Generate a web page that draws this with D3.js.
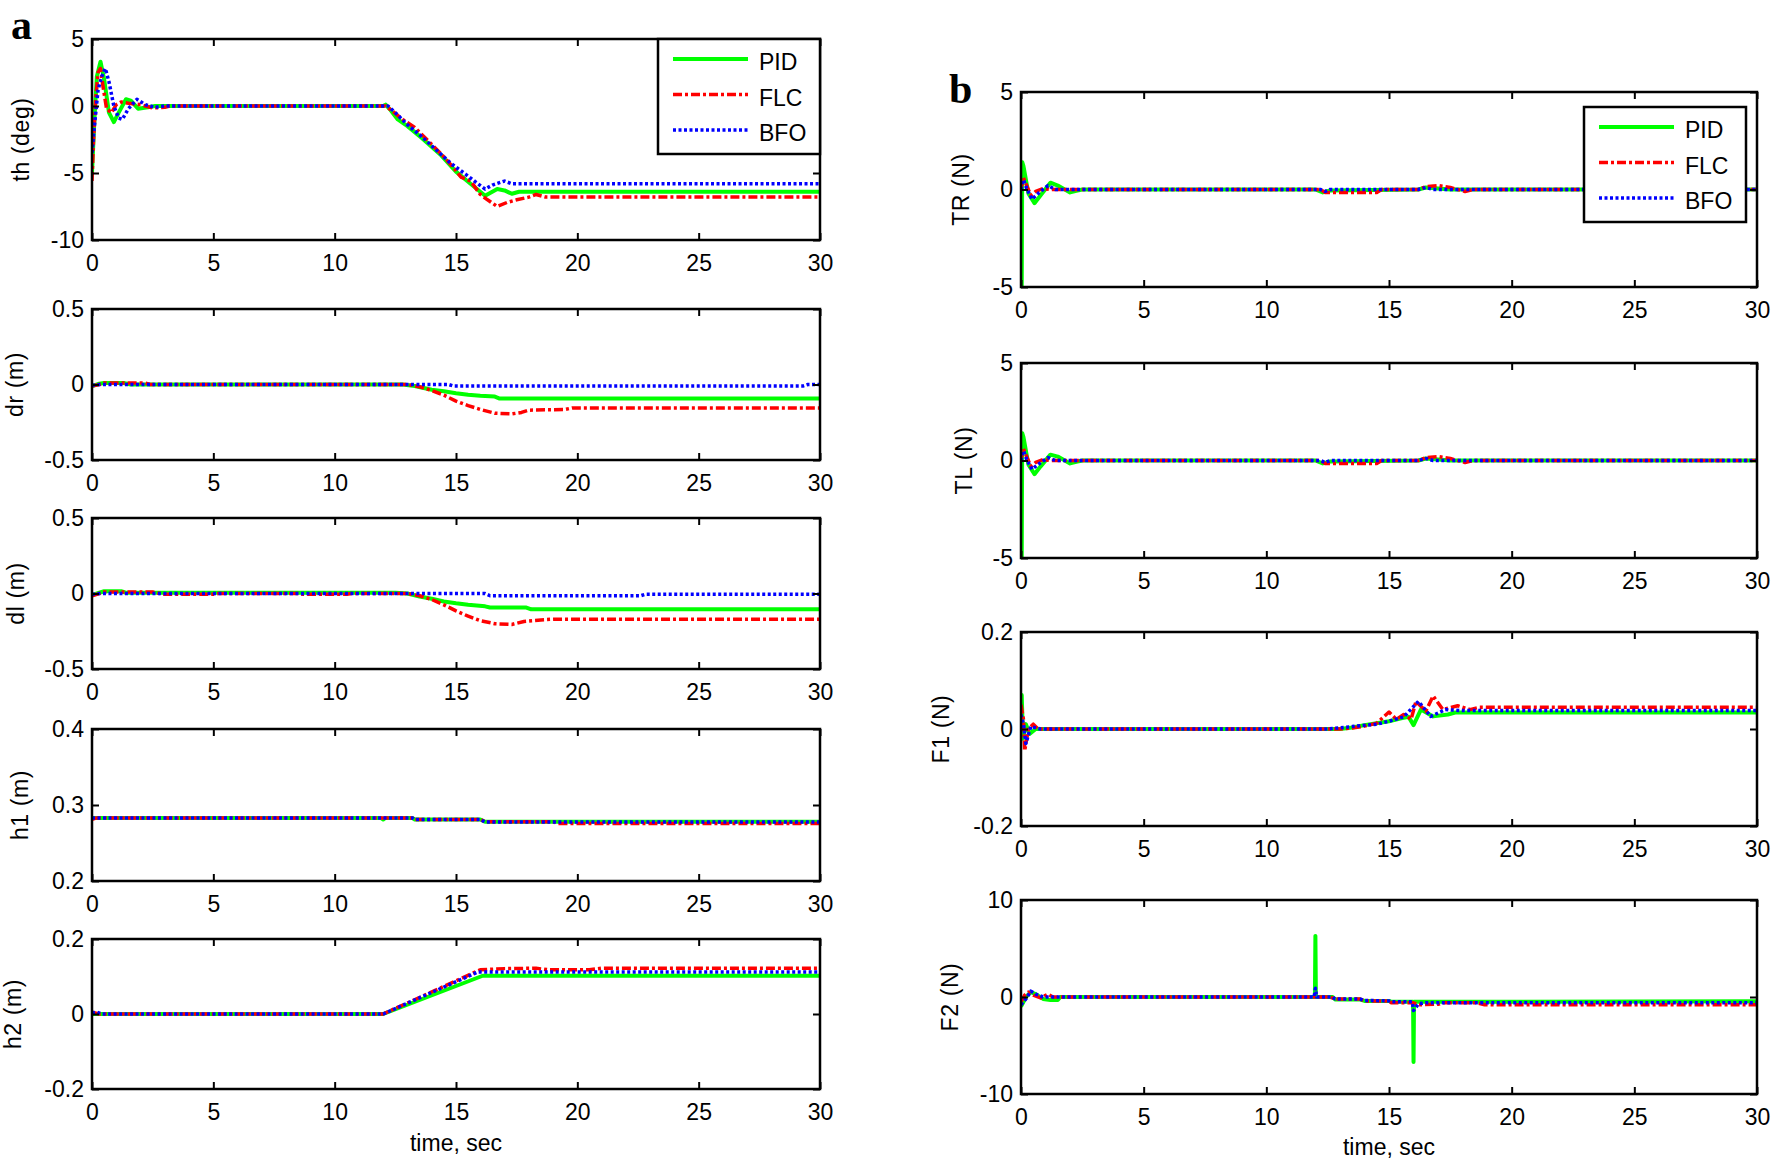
<!DOCTYPE html>
<html>
<head>
<meta charset="utf-8">
<script src="https://cdn.jsdelivr.net/npm/d3@7"></script>
<style>
body { margin: 0; background: #fff; }
</style>
</head>
<body>
<svg id="fig" width="1773" height="1166"></svg>
<script>
// time ticks shared by every panel
var xTicks = [0, 5, 10, 15, 20, 25, 30];
var seriesNames = ["PID", "FLC", "BFO"];

// th (deg)
var thTicks = [-10, -5, 0, 5];
var thPID = [[0,-5],[0.1,-1],[0.2,2.2],[0.35,3.3],[0.5,2.0],[0.7,-0.5],[0.9,-1.2],[1.1,-0.5],[1.4,0.5],[1.6,0.4],[1.9,-0.2],[2.3,-0.1],[2.6,0],[12.0,0],[12.1,0.1],[12.3,-0.3],[12.6,-1.0],[13.0,-1.5],[13.6,-2.4],[14.4,-3.7],[15.0,-4.9],[15.6,-5.8],[16.2,-6.7],[16.7,-6.2],[17.0,-6.3],[17.3,-6.55],[17.6,-6.4],[30,-6.4]];
var thFLC = [[0,-5.6],[0.05,-3],[0.15,0.5],[0.25,2.5],[0.35,2.8],[0.45,1.5],[0.6,-0.2],[0.8,-0.5],[1.0,0.1],[1.2,0.3],[1.5,0.2],[2.0,0.1],[2.5,-0.15],[3.0,-0.1],[3.2,0],[12.1,0],[12.4,-0.4],[12.8,-1.0],[13.3,-1.6],[13.8,-2.5],[14.4,-3.6],[14.9,-4.6],[15.2,-5.3],[15.6,-5.6],[16.0,-6.6],[16.3,-7.0],[16.7,-7.5],[17.1,-7.2],[17.5,-7.0],[18.0,-6.8],[18.3,-6.6],[18.7,-6.8],[30,-6.8]];
var thBFO = [[0,-3.5],[0.1,-1.5],[0.25,1.2],[0.4,2.2],[0.55,2.8],[0.7,1.8],[0.9,0],[1.1,-0.9],[1.25,-1.0],[1.5,-0.2],[1.85,0.5],[2.2,0.1],[2.6,-0.1],[3.0,0],[12.2,0],[12.5,-0.5],[13.0,-1.4],[13.6,-2.3],[14.2,-3.3],[14.8,-4.3],[15.4,-5.1],[15.9,-5.8],[16.2,-6.2],[16.5,-5.9],[17.0,-5.6],[17.3,-5.8],[30,-5.8]];

// dr (m)
var drTicks = [-0.5, 0, 0.5];
var drPID = [[0,-0.01],[0.3,0.005],[0.5,0.01],[1.3,0.01],[1.6,0],[12.8,0],[13.3,-0.01],[14.0,-0.035],[14.5,-0.045],[15.0,-0.058],[15.5,-0.068],[16.0,-0.075],[16.6,-0.08],[16.8,-0.093],[30,-0.093]];
var drFLC = [[0,-0.01],[0.3,0],[0.5,0.01],[2.2,0.01],[2.4,0],[13.0,0],[13.5,-0.015],[14.0,-0.04],[14.5,-0.07],[15.0,-0.11],[15.5,-0.14],[16.0,-0.165],[16.6,-0.19],[17.3,-0.195],[17.7,-0.185],[18.0,-0.17],[19.5,-0.165],[19.8,-0.155],[30,-0.155]];
var drBFO = [[0,-0.005],[0.3,0],[14.7,0],[14.9,-0.01],[29.3,-0.01],[29.5,0],[30,0]];

// dl (m)
var dlTicks = [-0.5, 0, 0.5];
var dlPID = [[0,-0.01],[0.3,0.005],[0.5,0.015],[1.2,0.015],[1.4,0.005],[12.5,0.005],[13.0,0],[13.5,-0.02],[14.0,-0.035],[14.5,-0.053],[15.0,-0.065],[15.5,-0.075],[16.2,-0.085],[16.4,-0.093],[17.9,-0.093],[18.1,-0.105],[30,-0.105]];
var dlFLC = [[0,-0.015],[0.3,0],[0.5,0.01],[2.5,0.01],[2.8,0],[3.0,-0.005],[5.0,-0.005],[5.2,0],[8.5,0],[8.7,-0.005],[10.5,-0.005],[10.7,0],[13.0,0],[13.5,-0.015],[14.0,-0.04],[14.5,-0.075],[15.0,-0.115],[15.5,-0.15],[16.0,-0.18],[16.6,-0.2],[17.3,-0.205],[17.8,-0.185],[18.5,-0.175],[19.0,-0.17],[30,-0.17]];
var dlBFO = [[0,-0.005],[0.3,0],[16.2,0],[16.4,-0.015],[22.6,-0.015],[22.8,-0.005],[30,-0.005]];

// h1 (m)
var h1Ticks = [0.2, 0.3, 0.4];
var h1PID = [[0,0.283],[11.9,0.283],[12.0,0.281],[12.1,0.283],[13.2,0.283],[13.3,0.281],[16.0,0.281],[16.2,0.278],[30,0.278]];
var h1FLC = [[0,0.281],[0.2,0.283],[12.0,0.283],[13.2,0.283],[13.3,0.281],[16.0,0.281],[16.2,0.278],[19.0,0.278],[19.2,0.2755],[30,0.2755]];
var h1BFO = [[0,0.283],[12.0,0.283],[13.2,0.283],[13.3,0.281],[16.0,0.281],[16.2,0.2775],[30,0.2775]];

// h2 (m)
var h2Ticks = [-0.2, 0, 0.2];
var h2PID = [[0,0],[12.0,0],[16.1,0.102],[30,0.102]];
var h2FLC = [[0,0.005],[0.3,0],[12.0,0],[16.0,0.118],[17,0.121],[18.3,0.122],[18.8,0.118],[20.5,0.118],[21.0,0.122],[30,0.122]];
var h2BFO = [[0,0.003],[0.2,0.005],[0.4,0],[12.0,0],[15.9,0.112],[30,0.112]];

// TR (N)
var trTicks = [-5, 0, 5];
var trPID = [[0,0],[0.01,-5],[0.03,-5],[0.05,1.4],[0.1,1.2],[0.3,-0.2],[0.55,-0.7],[0.8,-0.3],[1.2,0.35],[1.5,0.2],[2.0,-0.15],[2.3,-0.05],[2.5,0],[12.0,0],[12.3,-0.15],[12.6,-0.05],[16.2,0],[16.5,0.1],[17.0,0.05],[17.5,0],[30,0]];
var trFLC = [[0,0],[0.05,0.4],[0.1,0.6],[0.2,0.3],[0.4,-0.3],[0.6,-0.1],[0.9,0.05],[1.2,0],[12.2,0],[12.4,-0.15],[14.5,-0.15],[14.7,0],[16.2,0],[16.5,0.15],[17.0,0.2],[17.5,0.1],[17.8,0],[18.1,-0.1],[18.4,0],[30,0]];
var trBFO = [[0,0],[0.05,0.3],[0.1,0.5],[0.25,0],[0.45,-0.5],[0.7,-0.2],[1.1,0.2],[1.4,0],[12.2,0],[12.4,-0.1],[12.6,0],[16.2,0],[16.5,0.1],[16.8,0],[30,0]];

// TL (N)
var tlTicks = [-5, 0, 5];
var tlPID = [[0,0],[0.01,-5],[0.03,-5],[0.05,1.4],[0.1,1.2],[0.3,-0.2],[0.55,-0.7],[0.8,-0.3],[1.2,0.3],[1.5,0.2],[2.0,-0.15],[2.3,-0.05],[2.5,0],[12.0,0],[12.3,-0.15],[12.6,-0.05],[16.2,0],[16.5,0.1],[17.0,0.05],[17.5,0],[30,0]];
var tlFLC = [[0,0],[0.05,0.4],[0.1,0.6],[0.2,0.3],[0.4,-0.3],[0.6,-0.1],[0.9,0.05],[1.2,0],[12.2,0],[12.4,-0.15],[14.5,-0.15],[14.7,0],[16.2,0],[16.5,0.15],[17.0,0.2],[17.5,0.1],[17.8,0],[18.1,-0.1],[18.4,0],[30,0]];
var tlBFO = [[0,0],[0.05,0.3],[0.1,0.5],[0.25,0],[0.45,-0.45],[0.7,-0.2],[1.1,0.15],[1.4,0],[12.2,0],[12.4,-0.1],[12.6,0],[16.2,0],[16.5,0.1],[16.8,0],[30,0]];

// F1 (N)
var f1Ticks = [-0.2, 0, 0.2];
var f1PID = [[0,0],[0.03,0.07],[0.08,-0.02],[0.2,0.01],[0.35,-0.01],[0.6,0],[13.0,0],[13.5,0.003],[14.0,0.008],[14.5,0.012],[15.0,0.016],[15.5,0.022],[15.8,0.025],[16.0,0.008],[16.3,0.04],[16.8,0.026],[17.4,0.03],[17.7,0.034],[30,0.034]];
var f1FLC = [[0,0.05],[0.1,0.02],[0.15,-0.045],[0.3,0],[0.5,0.01],[0.7,0],[13.0,0],[13.5,0.002],[14.0,0.006],[14.5,0.012],[15.0,0.035],[15.3,0.02],[15.6,0.03],[15.9,0.02],[16.1,0.057],[16.5,0.037],[16.8,0.068],[17.2,0.04],[17.8,0.048],[18.3,0.04],[18.7,0.045],[30,0.045]];
var f1BFO = [[0,0.03],[0.1,0.01],[0.2,-0.03],[0.4,0.005],[0.8,0],[12.5,0],[13.5,0.005],[14.5,0.01],[15.0,0.016],[15.6,0.025],[16.2,0.057],[16.7,0.026],[17.3,0.04],[18.0,0.038],[30,0.038]];

// F2 (N)
var f2Ticks = [-10, 0, 10];
var f2PID = [[0,-1],[0.2,0],[0.4,0.5],[0.6,0.3],[0.9,-0.2],[1.2,-0.3],[1.5,-0.3],[1.6,0],[11.98,0],[12.0,6.3],[12.02,0],[12.7,0],[12.8,-0.25],[13.8,-0.25],[14.0,-0.4],[15.0,-0.4],[15.1,-0.5],[15.98,-0.5],[16.0,-6.7],[16.02,-0.5],[30,-0.45]];
var f2FLC = [[0,-0.5],[0.15,0.2],[0.3,0.5],[0.5,0.2],[0.8,-0.1],[1.1,0.3],[1.3,0],[12.6,0],[12.8,-0.2],[13.8,-0.2],[14.0,-0.4],[15.0,-0.4],[15.1,-0.6],[16.0,-0.6],[16.2,-0.8],[17.0,-0.75],[17.2,-0.6],[18.6,-0.6],[18.9,-0.8],[30,-0.8]];
var f2BFO = [[0,-0.8],[0.2,-0.2],[0.4,0.6],[0.6,0.3],[0.9,0],[11.95,0],[12.0,0.9],[12.05,0],[12.7,0],[12.8,-0.2],[13.8,-0.2],[14.0,-0.35],[15.0,-0.4],[15.1,-0.5],[15.95,-0.5],[16.0,-1.4],[16.2,-0.7],[16.5,-0.6],[30,-0.6]];

var styles = [
  {color: "#00ff00", width: 4, dash: null},
  {color: "#ff0000", width: 3.5, dash: "9,3,3,3"},
  {color: "#0000ff", width: 3.5, dash: "3,2.5"}
];

var panels = [
  {x: 92, y: 39, w: 728, h: 201, ticks: thTicks, label: "th (deg)", lx: 28.5, data: [thPID, thFLC, thBFO], legend: {dx: 0, dy: 0}},
  {x: 92, y: 309, w: 728, h: 151, ticks: drTicks, label: "dr (m)", lx: 23, data: [drPID, drFLC, drBFO]},
  {x: 92, y: 518, w: 728, h: 151, ticks: dlTicks, label: "dl (m)", lx: 24, data: [dlPID, dlFLC, dlBFO]},
  {x: 92, y: 729, w: 728, h: 152, ticks: h1Ticks, label: "h1 (m)", lx: 28, data: [h1PID, h1FLC, h1BFO]},
  {x: 92, y: 939, w: 728, h: 150, ticks: h2Ticks, label: "h2 (m)", lx: 21, data: [h2PID, h2FLC, h2BFO], xlabel: 1151},
  {x: 1021, y: 92, w: 736, h: 195, ticks: trTicks, label: "TR (N)", lx: 969, data: [trPID, trFLC, trBFO], legend: {dx: 11, dy: 15}},
  {x: 1021, y: 363, w: 736, h: 195, ticks: tlTicks, label: "TL (N)", lx: 972, data: [tlPID, tlFLC, tlBFO]},
  {x: 1021, y: 632, w: 736, h: 194, ticks: f1Ticks, label: "F1 (N)", lx: 949, data: [f1PID, f1FLC, f1BFO]},
  {x: 1021, y: 900, w: 736, h: 194, ticks: f2Ticks, label: "F2 (N)", lx: 958, data: [f2PID, f2FLC, f2BFO], xlabel: 1155}
];

var sans = '"Liberation Sans", Arial, sans-serif';
var serif = '"Liberation Serif", "Times New Roman", serif';

var svg = d3.select("#fig");
svg.append("rect").attr("width", 1773).attr("height", 1166).attr("fill", "#fff");

var fontSize = 23;
var tickLen = 7;

panels.forEach(function(p, pi) {
  var g = svg.append("g").attr("transform", "translate(" + p.x + "," + p.y + ")");
  var xs = d3.scaleLinear().domain([0, 30]).range([0, p.w]);
  var ys = d3.scaleLinear().domain([p.ticks[0], p.ticks[p.ticks.length - 1]]).range([p.h, 0]);

  var clipId = "clip" + pi;
  g.append("clipPath").attr("id", clipId)
    .append("rect").attr("width", p.w).attr("height", p.h);

  var line = d3.line().x(function(d) { return xs(d[0]); }).y(function(d) { return ys(d[1]); });
  var lines = g.append("g").attr("clip-path", "url(#" + clipId + ")");
  p.data.forEach(function(s, i) {
    lines.append("path")
      .attr("d", line(s))
      .attr("fill", "none")
      .attr("stroke", styles[i].color)
      .attr("stroke-width", styles[i].width)
      .attr("stroke-dasharray", styles[i].dash)
      .attr("stroke-linejoin", "round");
  });

  function clean(sel) {
    sel.select(".domain").remove();
    sel.selectAll(".tick line").attr("stroke", "#000").attr("stroke-width", 2);
    sel.selectAll("text").attr("font-size", fontSize).attr("font-family", sans).attr("fill", "#000");
  }
  var fmt = function(d) { return String(d); };

  g.append("g").attr("transform", "translate(0," + p.h + ")")
    .call(d3.axisBottom(xs).tickValues(xTicks).tickFormat(fmt).tickSizeInner(-tickLen).tickSizeOuter(0).tickPadding(15))
    .call(clean);
  g.append("g")
    .call(d3.axisTop(xs).tickValues(xTicks).tickFormat("").tickSizeInner(-tickLen).tickSizeOuter(0))
    .call(clean);
  g.append("g")
    .call(d3.axisLeft(ys).tickValues(p.ticks).tickFormat(fmt).tickSizeInner(-tickLen).tickSizeOuter(0).tickPadding(8))
    .call(clean);
  g.append("g").attr("transform", "translate(" + p.w + ",0)")
    .call(d3.axisRight(ys).tickValues(p.ticks).tickFormat("").tickSizeInner(-tickLen).tickSizeOuter(0))
    .call(clean);

  g.append("rect").attr("width", p.w).attr("height", p.h)
    .attr("fill", "none").attr("stroke", "#000").attr("stroke-width", 2.5);

  svg.append("text")
    .attr("transform", "translate(" + p.lx + "," + (p.y + p.h / 2) + ") rotate(-90)")
    .attr("text-anchor", "middle")
    .attr("font-family", sans)
    .attr("font-size", fontSize)
    .attr("letter-spacing", 0.6)
    .text(p.label);

  if (p.xlabel) {
    svg.append("text")
      .attr("x", p.x + p.w / 2)
      .attr("y", p.xlabel)
      .attr("text-anchor", "middle")
      .attr("font-family", sans)
      .attr("font-size", fontSize)
      .text("time, sec");
  }

  if (p.legend) {
    var lw = 162, lh = 115;
    var lg = g.append("g").attr("transform", "translate(" + (p.w - p.legend.dx - lw) + "," + p.legend.dy + ")");
    lg.append("rect").attr("width", lw).attr("height", lh)
      .attr("fill", "#fff").attr("stroke", "#000").attr("stroke-width", 2.5);
    seriesNames.forEach(function(name, i) {
      var cy = 20 + i * 35.5;
      lg.append("line")
        .attr("x1", 15).attr("x2", 90).attr("y1", cy).attr("y2", cy)
        .attr("stroke", styles[i].color)
        .attr("stroke-width", styles[i].width)
        .attr("stroke-dasharray", styles[i].dash);
      lg.append("text")
        .attr("x", 101).attr("y", cy + 11)
        .attr("font-family", sans)
        .attr("font-size", fontSize)
        .text(name);
    });
  }
});

svg.append("text").attr("x", 11).attr("y", 39)
  .attr("font-family", serif)
  .attr("font-weight", "bold").attr("font-size", 42).text("a");
svg.append("text").attr("x", 949).attr("y", 103)
  .attr("font-family", serif)
  .attr("font-weight", "bold").attr("font-size", 42).text("b");
</script>
</body>
</html>
